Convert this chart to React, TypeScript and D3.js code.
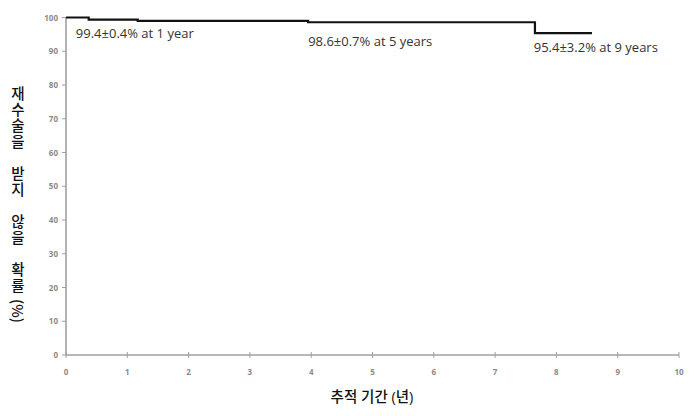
import React from "react";
import * as d3 from "d3";

const stepTimes = [0, 0.37, 1.17, 3.95, 7.65, 8.58];
const stepValues = [100, 99.4, 99.0, 98.6, 95.4, 95.4];
const xTicks = [0, 1, 2, 3, 4, 5, 6, 7, 8, 9, 10];
const yTicks = [0, 10, 20, 30, 40, 50, 60, 70, 80, 90, 100];
const annotations = [
  { t: 0.16, v: 99.4, text: "99.4±0.4% at 1 year" },
  { t: 3.95, v: 98.6, text: "98.6±0.7% at 5 years" },
  { t: 7.63, v: 95.4, text: "95.4±3.2% at 9 years" },
];
const annotationDy = [18.5, 24, 19];
const yTitle = "재수술을\u3000받지\u3000않을\u3000확률 ";
const yTitleTail = "(%)";
const xTitle = "추적 기간 (년)";

export default function App() {
  const W = 700, H = 416;
  const x = d3.scaleLinear().domain([0, 10]).range([66, 679]);
  const y = d3.scaleLinear().domain([0, 100]).range([355, 17.5]);
  const line = d3
    .line<number>()
    .x((_, i) => x(stepTimes[i]))
    .y((d) => y(d))
    .curve(d3.curveStepAfter);
  const axisColor = "#a0a0a0";
  const tickText = "#8a8a8a";
  const font = "'Open Sans', 'Noto Sans CJK KR', sans-serif";
  return (
    <svg width={W} height={H} style={{ position: "absolute", left: 0, top: 0, background: "#fff" }} fontFamily={font}>
      {/* axes */}
      <line x1={x(0)} x2={x(10)} y1={y(0)} y2={y(0)} stroke={axisColor} strokeWidth={1.6} />
      <line x1={x(0)} x2={x(0)} y1={y(0)} y2={y(100)} stroke={axisColor} strokeWidth={1.6} />
      {xTicks.map((t) => (
        <g key={"x" + t}>
          <line x1={x(t)} x2={x(t)} y1={y(0) - 3} y2={y(0) + 3} stroke={axisColor} strokeWidth={1} />
          <text x={x(t)} y={y(0) + 20} fontSize={8} fontWeight="bold" fill={tickText} textAnchor="middle">
            {t}
          </text>
        </g>
      ))}
      {yTicks.map((t) => (
        <g key={"y" + t}>
          <line x1={x(0) - 4} x2={x(0)} y1={y(t)} y2={y(t)} stroke={axisColor} strokeWidth={1} />
          <text x={x(0) - 8} y={y(t) + 3} fontSize={8} fontWeight="bold" fill={tickText} textAnchor="end">
            {t}
          </text>
        </g>
      ))}
      {/* survival curve */}
      <path d={line(stepValues) ?? ""} fill="none" stroke="#111" strokeWidth={2.2} />
      {annotations.map((a, i) => (
        <text key={a.text} x={x(a.t)} y={y(a.v) + annotationDy[i]} fontSize={13} fill="#333">
          {a.text}
        </text>
      ))}
      {/* titles */}
      <text x={372} y={402} fontSize={14.5} fill="#111" textAnchor="middle" fontWeight="500">
        {xTitle}
      </text>
      <text
        x={18}
        y={86}
        fontSize={14.5}
        fill="#111"
        fontWeight="500"
        letterSpacing={1.5}
        style={{ writingMode: "vertical-rl", textOrientation: "mixed", fontFamily: "'Noto Sans CJK KR', sans-serif" } as React.CSSProperties}
      >
        {yTitle}
        <tspan letterSpacing={0}>{yTitleTail}</tspan>
      </text>
    </svg>
  );
}
